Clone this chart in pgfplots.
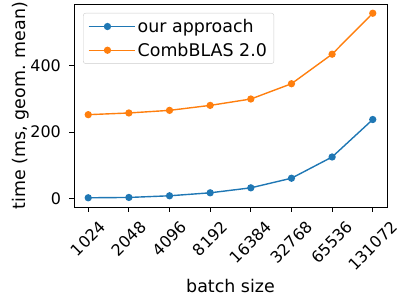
\documentclass[border=0pt]{standalone}
\usepackage{fontspec}
\setmainfont{DejaVu Sans}
\usepackage{graphicx}
\usepackage{pgfplots}
\pgfplotsset{compat=1.18}
\definecolor{mblue}{HTML}{1F77B4}
\definecolor{morange}{HTML}{FF7F0E}
\begin{document}
\begin{tikzpicture}
\begin{axis}[
  scale only axis,
  width=313bp, height=203bp,
  xmin=-0.35, xmax=7.35,
  ymin=-25.8, ymax=586.3,
  xtick={0,1,2,3,4,5,6,7},
  xticklabels={\rotatebox{45}{1024},\rotatebox{45}{2048},\rotatebox{45}{4096},\rotatebox{45}{8192},\rotatebox{45}{16384},\rotatebox{45}{32768},\rotatebox{45}{65536},\rotatebox{45}{131072}},
  ytick={0,200,400},
  xticklabel style={anchor=north, inner sep=0pt},
  yticklabel style={anchor=east, inner sep=0pt},
  xticklabel shift=8bp,
  yticklabel shift=8bp,
  tick align=outside,
  major tick length=4.9bp,
  tick style={black, line width=0.8bp},
  axis line style={line width=0.8bp},
  xtick pos=bottom, ytick pos=left,
  /pgf/number format/assume math mode=true,
  tick label style={font=\fontsize{16}{19}\selectfont},
  label style={font=\fontsize{17.5}{21}\selectfont},
  xlabel={batch size},
  ylabel={time (ms, geom. mean)},
  xlabel style={at={(axis description cs:0.5,0)}, anchor=north, yshift=-69bp},
  ylabel style={at={(axis description cs:0,0.5)}, anchor=south, yshift=41bp},
  legend style={at={(0.029,0.956)}, anchor=north west, draw=black!20, rounded corners=2.5bp,
    font=\fontsize{17.5}{21}\selectfont, row sep=5bp, inner xsep=5bp, inner ysep=4bp,
    nodes={inner sep=2bp}},
  legend cell align=left,
  legend image code/.code={\path (0bp,0bp) -- (46bp,0bp); \draw[#1] (0bp,0bp) -- (18.5bp,0bp) plot coordinates {(18.5bp,0bp)} -- (37bp,0bp);},
]
\addplot[mblue, line width=1.4bp, mark=*, mark size=2.9bp] coordinates {
(0,2) (1,3) (2,8) (3,17) (4,32) (5,61) (6,125) (7,238)};
\addlegendentry{our approach}
\addplot[morange, line width=1.4bp, mark=*, mark size=2.9bp] coordinates {
(0,252.6) (1,257.7) (2,265.6) (3,280.6) (4,299.8) (5,345.9) (6,435) (7,558.5)};
\addlegendentry{CombBLAS 2.0}
\coordinate (O) at (rel axis cs:0,0);
\end{axis}
\pgfresetboundingbox
\path (O) ++(-74bp,-92bp) rectangle ++(402bp,299bp);
\end{tikzpicture}
\end{document}
